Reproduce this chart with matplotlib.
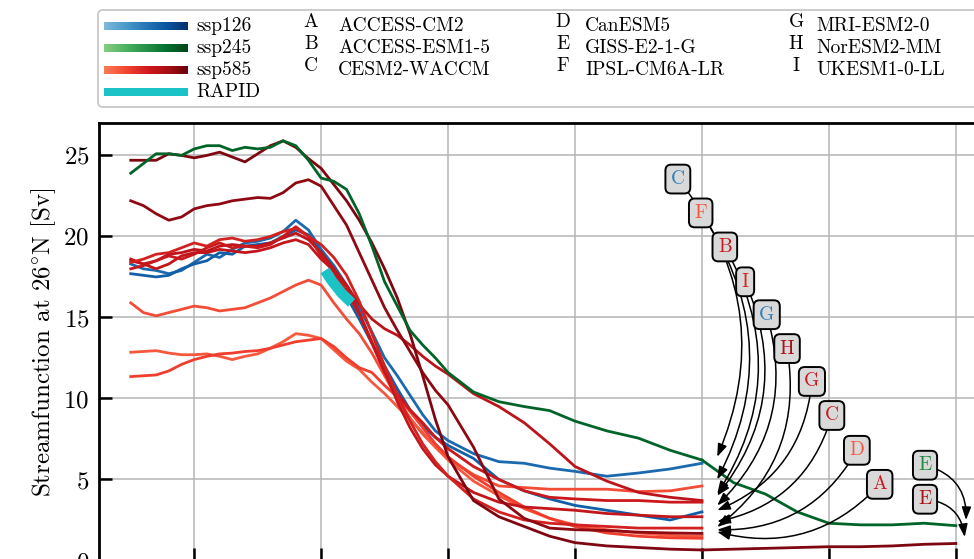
import numpy as np
import matplotlib
matplotlib.use("Agg")
import matplotlib.pyplot as plt
from matplotlib.patches import FancyBboxPatch

plt.rcParams['font.family'] = 'serif'
plt.rcParams['font.serif'] = ['cmr10']
plt.rcParams['mathtext.fontset'] = 'cm'
plt.rcParams['axes.unicode_minus'] = False
plt.rcParams['axes.formatter.use_mathtext'] = True

# ---- data ----
years = [1850, 1860, 1870, 1880, 1890, 1900, 1910, 1920, 1930, 1940, 1950, 1960,
         1970, 1980, 1990, 2000, 2010, 2020, 2030, 2040, 2050, 2060, 2070, 2080,
         2090, 2100, 2120, 2140, 2160, 2180, 2200, 2225, 2250, 2275, 2300]
ext_years = [2325, 2350, 2375, 2400, 2425, 2450, 2475, 2500]

# ssp126
cesm_126 = [18.3, 18.0, 17.9, 17.7, 17.9, 18.4, 18.9, 18.7, 19.2, 19.6, 19.7, 19.9,
            20.3, 21.0, 20.4, 19.2, 18.2, 17.0, 15.6, 14.1, 12.5, 11.4, 10.2, 9.0,
            8.0, 7.4, 6.6, 6.1, 6.0, 5.7, 5.5, 5.2, 5.4, 5.65, 6.0]
mri_126 = [17.7, 17.6, 17.5, 17.6, 18.0, 18.3, 18.5, 19.0, 18.9, 19.4, 19.5, 19.6,
           20.0, 20.4, 20.1, 19.0, 17.8, 16.3, 14.9, 13.4, 12.0, 10.6, 9.3, 8.3,
           7.6, 7.1, 6.3, 5.0, 4.3, 3.8, 3.4, 3.1, 2.8, 2.5, 3.0]
# ssp245
giss_245 = [23.9, 24.5, 25.1, 25.1, 25.0, 25.4, 25.6, 25.6, 25.3, 25.5, 25.4, 25.5,
            25.9, 25.6, 24.7, 23.6, 23.4, 22.9, 21.4, 19.4, 17.2, 15.7, 14.2, 13.3,
            12.5, 11.6, 10.4, 9.8, 9.5, 9.25, 8.6, 8.0, 7.55, 6.8, 6.2]
giss_245_ext = [4.8, 4.1, 3.0, 2.3, 2.2, 2.2, 2.3, 2.15]
# ssp585
giss_585 = [24.7, 24.7, 24.7, 25.1, 25.0, 24.85, 25.0, 25.2, 24.9, 24.6, 25.1, 25.6,
            25.9, 25.5, 24.8, 24.2, 23.2, 22.2, 21.0, 19.6, 18.0, 16.2, 14.0, 11.4,
            8.7, 6.4, 3.7, 2.7, 2.1, 1.5, 1.1, 0.9, 0.8, 0.7, 0.65]
giss_585_ext = [0.7, 0.75, 0.8, 0.85, 0.85, 0.9, 1.0, 1.05]
noresm_585 = [22.2, 21.9, 21.4, 21.0, 21.2, 21.7, 21.9, 22.0, 22.2, 22.3, 22.4, 22.35,
              22.7, 23.3, 23.5, 23.1, 21.9, 20.7, 19.0, 17.3, 15.6, 14.2, 12.9, 11.6,
              10.5, 9.6, 7.0, 3.8, 2.6, 2.0, 1.9, 1.85, 1.75, 1.7, 1.67]
esm15_585 = [18.6, 18.3, 18.5, 18.9, 19.0, 19.2, 19.1, 19.4, 19.5, 19.4, 19.4, 19.6,
             19.9, 20.2, 19.8, 19.0, 18.0, 17.0, 15.8, 14.9, 14.3, 13.9, 13.3, 12.6,
             12.0, 11.5, 10.3, 9.5, 8.5, 7.2, 5.8, 4.9, 4.2, 3.9, 3.7]
ukesm_585 = [18.0, 18.2, 18.5, 18.8, 18.6, 18.9, 19.3, 19.6, 19.3, 19.4, 19.3, 19.5,
             20.0, 20.6, 20.0, 18.8, 17.8, 16.6, 15.2, 13.4, 11.6, 10.3, 9.3, 8.5,
             7.6, 6.9, 5.8, 5.0, 4.3, 3.9, 3.8, 3.7, 3.7, 3.6, 3.6]
mri_585 = [18.5, 18.3, 18.0, 18.3, 18.8, 19.0, 19.0, 19.2, 19.1, 19.0, 19.1, 19.3,
           19.6, 19.8, 19.5, 18.6, 17.9, 16.9, 15.3, 13.5, 11.7, 9.8, 8.2, 6.9,
           5.9, 5.2, 4.2, 3.6, 3.3, 3.2, 3.1, 2.9, 2.8, 2.7, 2.7]
cesm_585 = [18.4, 18.6, 18.9, 19.0, 19.3, 19.6, 19.4, 19.8, 19.9, 19.7, 19.8, 20.0,
            20.3, 20.5, 20.0, 19.5, 18.7, 17.6, 16.0, 14.0, 12.0, 10.2, 8.6, 7.2,
            6.1, 5.2, 3.8, 3.0, 2.5, 2.3, 2.2, 2.1, 2.0, 2.0, 2.0]
ipsl_585 = [15.9, 15.3, 15.1, 15.3, 15.5, 15.7, 15.6, 15.4, 15.5, 15.6, 15.9, 16.2,
            16.6, 17.0, 17.3, 17.0, 15.9, 14.9, 14.0, 12.8, 11.4, 10.0, 8.8, 7.8,
            7.0, 6.3, 5.3, 4.6, 4.5, 4.4, 4.4, 4.4, 4.25, 4.3, 4.6]
canesm_585 = [12.85, 12.9, 12.95, 12.8, 12.7, 12.7, 12.75, 12.6, 12.4, 12.6, 12.75, 13.1,
              13.5, 14.0, 13.9, 13.7, 13.0, 12.3, 11.8, 11.0, 10.3, 9.5, 8.7, 7.9,
              7.0, 6.2, 4.9, 4.0, 3.2, 2.6, 2.2, 1.9, 1.7, 1.55, 1.5]
access_cm2_585 = [11.35, 11.4, 11.45, 11.7, 12.1, 12.4, 12.6, 12.75, 12.8, 12.9, 12.95, 13.1,
                  13.3, 13.5, 13.6, 13.7, 13.2, 12.5, 11.9, 11.6, 10.8, 10.1, 9.2, 8.2,
                  7.2, 6.4, 5.2, 4.2, 3.3, 2.6, 2.1, 1.7, 1.5, 1.4, 1.37]

rapid_years = [2003, 2008, 2012, 2016, 2020, 2024]
rapid = [17.9, 17.3, 16.9, 16.5, 16.2, 15.9]

scenarios = ['ssp126', 'ssp245', 'ssp585', 'RAPID']
letters = ['A', 'B', 'C', 'D', 'E', 'F', 'G', 'H', 'I']
models = ['ACCESS-CM2', 'ACCESS-ESM1-5', 'CESM2-WACCM', 'CanESM5', 'GISS-E2-1-G',
          'IPSL-CM6A-LR', 'MRI-ESM2-0', 'NorESM2-MM', 'UKESM1-0-LL']

blues, greens, reds = plt.cm.Blues, plt.cm.Greens, plt.cm.Reds
rapid_col = '#1cc3c6'

lines = [
    (cesm_126, blues(0.78)),
    (mri_126, blues(0.82)),
    (ipsl_585, reds(0.58)),
    (canesm_585, reds(0.55)),
    (access_cm2_585, reds(0.62)),
    (esm15_585, reds(0.8)),
    (ukesm_585, reds(0.75)),
    (mri_585, reds(0.78)),
    (cesm_585, reds(0.72)),
    (noresm_585, reds(0.92)),
    (giss_585, reds(0.95)),
    (giss_245, greens(0.9)),
]

fig = plt.figure(figsize=(9.74, 5.59), dpi=100)
ax = fig.add_axes([99 / 974, -1.5 / 559, 888.6 / 974, 437.5 / 559])

for vals, col in lines:
    ax.plot(years, vals, color=col, lw=2.0, zorder=3)
ax.plot([years[-1]] + ext_years, [giss_585[-1]] + giss_585_ext, color=reds(0.95), lw=2.0, zorder=3)
ax.plot([years[-1]] + ext_years, [giss_245[-1]] + giss_245_ext, color=greens(0.9), lw=2.0, zorder=3)
ax.plot(rapid_years, rapid, color=rapid_col, lw=7.5, solid_capstyle='butt', zorder=3.2)

ax.set_xlim(1825, 2525)
ax.set_ylim(0, 27)
ax.set_xticks([1900, 2000, 2100, 2200, 2300, 2400, 2500])
ax.set_yticks([0, 5, 10, 15, 20, 25])
ax.grid(True, color='#b5b5b5', lw=1.1, zorder=0)
ax.tick_params(direction='in', length=9.5, width=1.8, labelsize=18, pad=7)
ax.tick_params(axis='x', labelbottom=False)  # below the cropped edge in the reference
for s in ax.spines.values():
    s.set_linewidth(2.0)
ax.set_ylabel(r'Streamfunction at $26^{\circ}$N [Sv]', fontsize=18, labelpad=4)

# labels with arrows to the end of each run
box_letters = ['C', 'F', 'B', 'I', 'G', 'H', 'G', 'C', 'D', 'A']
box_lines = [cesm_126, ipsl_585, esm15_585, ukesm_585, mri_126, noresm_585, mri_585,
             cesm_585, canesm_585, access_cm2_585]
box_cols = [blues(0.7), reds(0.55), reds(0.75), reds(0.7), blues(0.7), reds(0.85),
            reds(0.75), reds(0.75), reds(0.55), reds(0.75)]
box_x = [2281, 2299, 2318, 2334, 2351, 2367, 2386.6, 2402.3, 2422, 2440]
box_y = [23.54, 21.45, 19.35, 17.2, 15.17, 13.08, 11.05, 8.95, 6.8, 4.7]

bbox = dict(boxstyle='round,pad=0.28,rounding_size=0.3', fc='#d9d9d9', ec='k', lw=1.4)
arrow = dict(arrowstyle='-|>,head_length=0.55,head_width=0.2', color='k', lw=1.1,
             connectionstyle='arc3,rad=-0.3', shrinkA=0, shrinkB=0)
for lab, vals, col, bx, by in zip(box_letters, box_lines, box_cols, box_x, box_y):
    ax.annotate(lab, xy=(2312, vals[-1] + 0.4), xytext=(bx, by), fontsize=14, color=col,
                ha='center', va='center', bbox=bbox, arrowprops=arrow, zorder=10)

e_arrow = dict(arrow, connectionstyle='arc3,rad=-0.4')
ax.annotate('E', xy=(2508, giss_245_ext[-1] + 0.35), xytext=(2475.7, 5.88), fontsize=14,
            color=greens(0.75), ha='center', va='center', bbox=bbox, arrowprops=e_arrow, zorder=10)
ax.annotate('E', xy=(2507, giss_585_ext[-1] + 0.4), xytext=(2475.7, 3.78), fontsize=14,
            color=reds(0.85), ha='center', va='center', bbox=bbox, arrowprops=e_arrow, zorder=10)

# legend drawn on an overlay in pixel units
lax = fig.add_axes([0, 0, 1, 1], zorder=20)
lax.axis('off')
lax.add_patch(FancyBboxPatch((98, 10), 900, 97, boxstyle='round,pad=0,rounding_size=5',
                             fc='white', ec='#c8c8c8', lw=1.3, zorder=1))
grad = np.linspace(0.45, 1.0, 256)[None, :]
row_y = [26, 48, 70, 92]
for name, cmap, yy in zip(scenarios[:3], ['Blues', 'Greens', 'Reds'], row_y):
    lax.imshow(grad, cmap=cmap, vmin=0, vmax=1, extent=(104, 188, yy + 4, yy - 4),
               aspect='auto', zorder=3)
    lax.text(196, yy, name, fontsize=14, va='center', zorder=3)
lax.fill_between([104, 188], row_y[3] - 4, row_y[3] + 4, color=rapid_col, lw=0, zorder=3)
lax.text(196, row_y[3], scenarios[3], fontsize=14, va='center', zorder=3)

col_letter_x = [311, 563, 796]
col_name_x = [338, 585, 816]
for i, (let, mod) in enumerate(zip(letters, models)):
    c, r = divmod(i, 3)
    lax.text(col_letter_x[c], row_y[r] - 4, let, fontsize=14, ha='center', va='center', zorder=3)
    lax.text(col_name_x[c], row_y[r], mod, fontsize=14, va='center', zorder=3)

lax.set_xlim(0, 974)
lax.set_ylim(559, 0)

fig.savefig('out.png', dpi=100)
